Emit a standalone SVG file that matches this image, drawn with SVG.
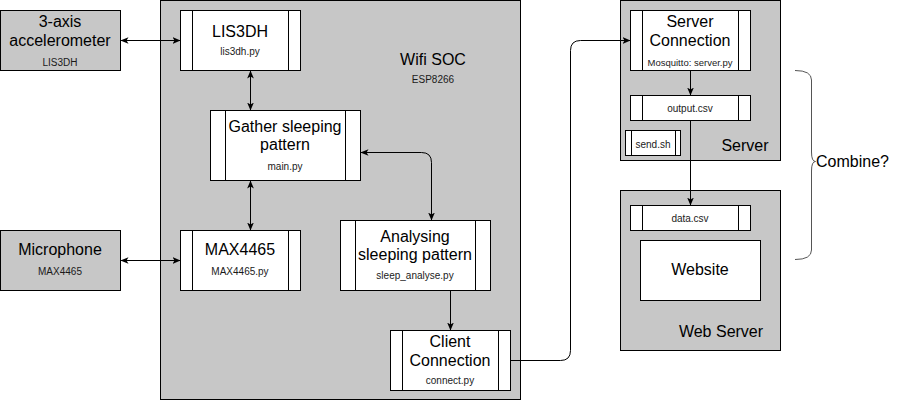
<svg xmlns="http://www.w3.org/2000/svg" width="897" height="401" viewBox="0 0 897 401">
<style>
text{font-family:"Liberation Sans",Arial,sans-serif;text-anchor:middle;fill:#000}
.t{font-size:16px}
.s{font-size:10px;fill:#1a1a1a}
.g{fill:#c7c7c7;stroke:#000;stroke-width:1}
.w{fill:#fff;stroke:#000;stroke-width:1}
.d{fill:none;stroke:#000;stroke-width:1}
.c{fill:none;stroke:#000;stroke-width:1}
.ab{marker-start:url(#a);marker-end:url(#a)}
.ae{marker-end:url(#a)}
</style>
<defs>
<marker id="a" viewBox="0 0 10 10" refX="10" refY="5" markerWidth="8" markerHeight="8" markerUnits="userSpaceOnUse" orient="auto-start-reverse">
<path d="M0,0.8 L10,5 L0,9.2 L2.5,5 z" fill="#000"/>
</marker>
</defs>

<g id="wifi-soc">
<rect class="g" x="160.5" y="0.5" width="360" height="399"/>
<text class="t" x="433" y="65">Wifi SOC</text>
<text class="s" x="433" y="83">ESP8266</text>
</g>

<g id="server">
<rect class="g" x="620.5" y="0.5" width="160" height="160"/>
<text class="t" x="745" y="151">Server</text>
</g>

<g id="web-server">
<rect class="g" x="620.5" y="190.5" width="160" height="160"/>
<text class="t" x="721" y="337">Web Server</text>
</g>

<g id="accelerometer">
<rect class="g" x="0.5" y="10.5" width="120" height="60"/>
<text class="t" x="60" y="27">3-axis</text>
<text class="t" x="60" y="45.5">accelerometer</text>
<text class="s" x="60" y="65.5">LIS3DH</text>
</g>

<g id="microphone">
<rect class="g" x="0.5" y="230.5" width="120" height="60"/>
<text class="t" x="60" y="255">Microphone</text>
<text class="s" x="60" y="275">MAX4465</text>
</g>

<g id="lis3dh">
<rect class="w" x="180.5" y="10.5" width="120" height="60"/>
<path class="d" d="M192.5 10.5V70.5M288.5 10.5V70.5"/>
<text class="t" x="240" y="37">LIS3DH</text>
<text class="s" x="240" y="55">lis3dh.py</text>
</g>

<g id="gather">
<rect class="w" x="210.5" y="110.5" width="150" height="70"/>
<path class="d" d="M225.5 110.5V180.5M345.5 110.5V180.5"/>
<text class="t" x="285" y="131.5">Gather sleeping</text>
<text class="t" x="285" y="150">pattern</text>
<text class="s" x="285" y="170">main.py</text>
</g>

<g id="max4465">
<rect class="w" x="180.5" y="230.5" width="120" height="60"/>
<path class="d" d="M192.5 230.5V290.5M288.5 230.5V290.5"/>
<text class="t" x="240" y="255">MAX4465</text>
<text class="s" x="240" y="275">MAX4465.py</text>
</g>

<g id="analysing">
<rect class="w" x="340.5" y="220.5" width="150" height="70"/>
<path class="d" d="M355.5 220.5V290.5M475.5 220.5V290.5"/>
<text class="t" x="415" y="242">Analysing</text>
<text class="t" x="415" y="260">sleeping pattern</text>
<text class="s" x="415" y="279">sleep_analyse.py</text>
</g>

<g id="client">
<rect class="w" x="390.5" y="330.5" width="120" height="60"/>
<path class="d" d="M402.5 330.5V390.5M498.5 330.5V390.5"/>
<text class="t" x="450" y="347">Client</text>
<text class="t" x="450" y="366">Connection</text>
<text class="s" x="450" y="384">connect.py</text>
</g>

<g id="server-connection">
<rect class="w" x="630.5" y="10.5" width="120" height="60"/>
<path class="d" d="M642.5 10.5V70.5M738.5 10.5V70.5"/>
<text class="t" x="690" y="27">Server</text>
<text class="t" x="690" y="45.5">Connection</text>
<text class="s" x="690" y="65.5" style="font-size:9.5px">Mosquitto: server.py</text>
</g>

<g id="output-csv">
<rect class="w" x="630.5" y="95.5" width="120" height="25"/>
<path class="d" d="M642.5 95.5V120.5M738.5 95.5V120.5"/>
<text class="s" x="690" y="111.5">output.csv</text>
</g>

<g id="send-sh">
<rect class="w" x="625.5" y="130.5" width="55" height="25"/>
<path class="d" d="M631.5 130.5V155.5M675.5 130.5V155.5"/>
<text class="s" x="653" y="148">send.sh</text>
</g>

<g id="data-csv">
<rect class="w" x="630.5" y="205.5" width="120" height="25"/>
<path class="d" d="M642.5 205.5V230.5M738.5 205.5V230.5"/>
<text class="s" x="690" y="221.5">data.csv</text>
</g>

<g id="website">
<rect class="w" x="640.5" y="240.5" width="120" height="60"/>
<text class="t" x="700" y="275">Website</text>
</g>

<g id="combine">
<path d="M795 70.5 Q811.5 70.5 811.5 80 V152 Q811.5 161.5 815.5 161.5 Q811.5 161.5 811.5 171 V250 Q811.5 259.5 795 259.5" fill="none" stroke="#555" stroke-width="1"/>
<text class="t" x="816" y="167" style="text-anchor:start">Combine?</text>
</g>

<g id="connectors">
<path class="c ab" d="M120.5 40.5H180.5"/>
<path class="c ab" d="M120.5 260.5H180.5"/>
<path class="c ab" d="M250.5 70.5V110.5"/>
<path class="c ab" d="M250.5 180.5V230.5"/>
<path class="c ab" d="M360.5 152.5H421.5Q431.5 152.5 431.5 162.5V220.5"/>
<path class="c ae" d="M450.5 290.5V330.5"/>
<path class="c ae" d="M510.5 360.5H560.5Q570.5 360.5 570.5 350.5V50.5Q570.5 40.5 580.5 40.5H630.5"/>
<path class="c ae" d="M690.5 70.5V95.5"/>
<path class="c ae" d="M690.5 120.5V205.5"/>
</g>
</svg>
